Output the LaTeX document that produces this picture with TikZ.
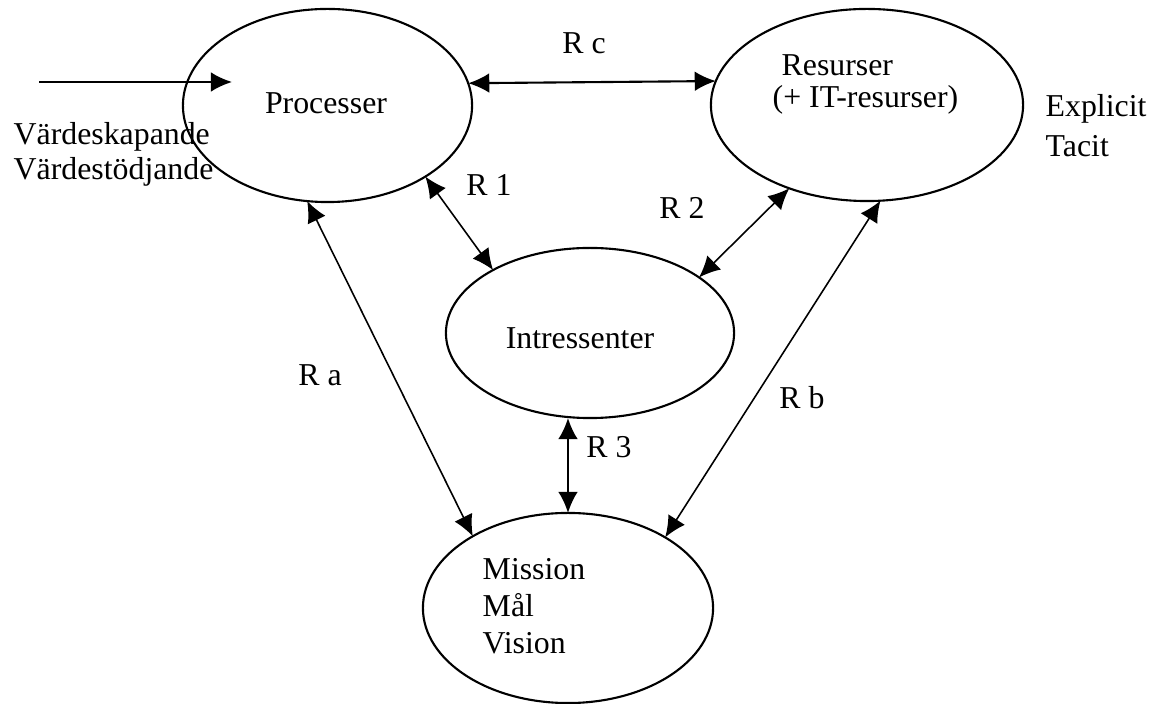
\documentclass[tikz,border=0pt]{standalone}
\usepackage{fontspec}
\setmainfont{Liberation Serif}
\usetikzlibrary{arrows.meta,shapes.geometric}
\begin{document}
\begin{tikzpicture}[x=0.01cm,y=-0.01cm,
  blob/.style={ellipse,draw,line width=0.6pt,inner sep=0pt,outer sep=0pt},
  rel/.style={line width=0.6pt,{Latex[length=6pt,width=5.6pt]}-{Latex[length=6pt,width=5.6pt]}},
  slant/.style={rel,line width=0.45pt},
  flow/.style={line width=0.6pt,-{Latex[length=6pt,width=5.6pt]}},
  lbl/.style={font=\fontsize{9.05pt}{10.5pt}\selectfont,inner sep=0pt}]
\useasboundingbox (0,0) rectangle (1151,704);

% the four areas
\node[blob,minimum width=2.89cm,minimum height=1.93cm] (proc) at (327.5,105.5) {};
\node[blob,minimum width=3.12cm,minimum height=1.92cm] (res)  at (867,105) {};
\node[blob,minimum width=2.88cm,minimum height=1.70cm] (intr) at (590,333) {};
\node[blob,minimum width=2.90cm,minimum height=1.90cm] (miss) at (568,608) {};

% texts inside the areas
\node[lbl] (tproc) at (326,103) {Processer};
\node[lbl,anchor=base west] (tres1) at (781,76) {Resurser};
\node[lbl,anchor=base west] (tres2) at (772,108) {(+ IT-resurser)};
\node[lbl] (tintr) at (580,338) {Intressenter};
\node[lbl,anchor=base west] (tm1) at (482,580) {Mission};
\node[lbl,anchor=base west] (tm2) at (482,617) {Mål};
\node[lbl,anchor=base west] (tm3) at (482,654) {Vision};

% side notes
\node[lbl,anchor=base west] (v1) at (13,145) {Värdeskapande};
\node[lbl,anchor=base west] (v2) at (13,180) {Värdestödjande};
\node[lbl,anchor=base west] (e1) at (1045,117) {Explicit};
\node[lbl,anchor=base west] (e2) at (1045,157) {Tacit};

% incoming flow
\coordinate (inS) at (39,82);
\coordinate (inE) at (232,82);
\draw[flow] (inS) -- (inE);

% relations
\draw[rel] (proc.9.5) -- (res.171.4);
\draw[slant] (proc.-36.6) -- (intr.147.3);
\draw[slant] (intr.27.4) -- (res.-133.3);
\draw[slant] (proc.-102.7) -- (miss.143.5);
\draw[slant] (res.-82) -- (miss.36.2);
\draw[rel] (intr.south -| miss.north) -- (miss.north);

% relation labels
\node[lbl] (lc) at (584,43) {R c};
\node[lbl] (l1) at (489,185) {R 1};
\node[lbl] (l2) at (682,208) {R 2};
\node[lbl] (la) at (320,375) {R a};
\node[lbl] (lb) at (802,398) {R b};
\node[lbl] (l3) at (609,447) {R 3};
\end{tikzpicture}
\end{document}
